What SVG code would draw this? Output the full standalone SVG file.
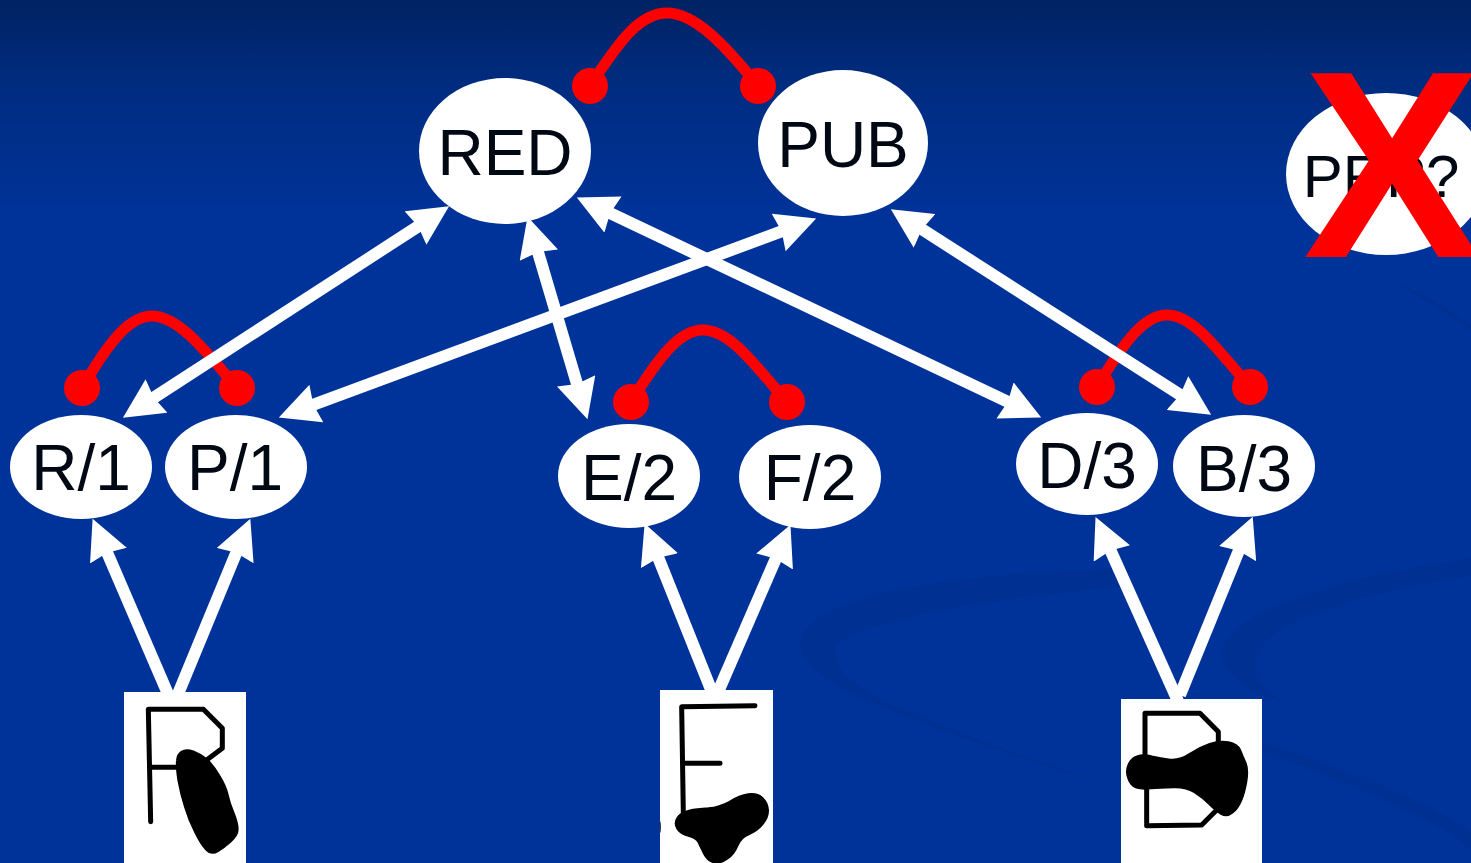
<svg xmlns="http://www.w3.org/2000/svg" width="1471" height="863" viewBox="0 0 1471 863">
  <style>
    .label { font-family: "Liberation Sans", Arial, sans-serif; font-size: 64px; fill: #000814; text-anchor: middle; }
    .oval { fill: #ffffff; }
    .link { stroke: #ffffff; stroke-width: 12; fill: none; }
    .both { marker-start: url(#head); marker-end: url(#head); }
    .one { marker-end: url(#head); }
    .arc { stroke: #ff0000; stroke-width: 11; fill: none; stroke-linecap: round; }
    .dot { fill: #ff0000; }
    .box { fill: #ffffff; }
    .pen { stroke: #000000; stroke-width: 15; fill: none; stroke-linejoin: round; stroke-linecap: round; }
    .ink { fill: #000000; stroke: #000000; stroke-width: 12; stroke-linejoin: round; }
    .swoosh { fill: #00308f; opacity: 0.65; }
  </style>
  <defs>
    <linearGradient id="sky" x1="0" y1="0" x2="0" y2="1">
      <stop offset="0" stop-color="#002263"/>
      <stop offset="0.1" stop-color="#002c80"/>
      <stop offset="0.25" stop-color="#003399"/>
      <stop offset="1" stop-color="#003399"/>
    </linearGradient>
    <marker id="head" markerUnits="userSpaceOnUse" markerWidth="40" markerHeight="40" viewBox="0 0 38 38" refX="13" refY="19" orient="auto-start-reverse">
      <path d="M0,0 L38,19 L0,38 L3,19 Z" fill="#ffffff"/>
    </marker>
  </defs>

  <g id="background">
    <rect width="1471" height="863" fill="url(#sky)"/>
    <path class="swoosh" d="M1130,568 C980,572 812,590 800,640 C794,680 880,712 1125,792 C930,722 830,690 836,650 C842,620 1000,598 1130,586 Z"/>
    <path class="swoosh" d="M1471,558 C1340,578 1230,610 1222,650 C1220,680 1260,695 1292,706 C1255,690 1250,670 1260,650 C1280,615 1380,590 1471,576 Z"/>
    <path class="swoosh" d="M1262,742 C1340,768 1430,800 1471,832 V850 C1430,815 1340,780 1262,752 Z"/>
    <path class="swoosh" d="M1395,282 C1420,292 1450,308 1471,325 V331 C1450,315 1420,298 1395,282 Z"/>
  </g>

  <g id="inhibition">
    <path class="arc" d="M590,86 C620,40 640,13 667,13 C695,13 725,45 758,86"/>
    <circle class="dot" cx="590" cy="86" r="18"/>
    <circle class="dot" cx="758" cy="86" r="18"/>
    <path class="arc" d="M82,388 C110,340 130,316 152,316 C178,316 205,350 237,388"/>
    <circle class="dot" cx="82" cy="388" r="18"/>
    <circle class="dot" cx="237" cy="388" r="18"/>
    <path class="arc" d="M631,402 C660,355 680,330 703,330 C730,330 755,365 787,402"/>
    <circle class="dot" cx="631" cy="402" r="18"/>
    <circle class="dot" cx="787" cy="402" r="18"/>
    <path class="arc" d="M1097,387 C1125,340 1145,315 1167,315 C1193,315 1218,350 1250,387"/>
    <circle class="dot" cx="1097" cy="387" r="18"/>
    <circle class="dot" cx="1250" cy="387" r="18"/>
  </g>

  <g id="connectors">
    <line class="link both" x1="145" y1="403.4" x2="427" y2="220.6"/>
    <line class="link both" x1="303.5" y1="408.3" x2="791.5" y2="227.7"/>
    <line class="link both" x1="535" y1="242" x2="580" y2="394"/>
    <line class="link both" x1="600.6" y1="208.7" x2="1017.4" y2="406.3"/>
    <line class="link both" x1="913" y1="223.5" x2="1189" y2="400.5"/>
    <line class="link one" x1="168" y1="694" x2="103" y2="543"/>
    <line class="link one" x1="178" y1="694" x2="240.3" y2="543"/>
    <line class="link one" x1="712" y1="692" x2="654.4" y2="548"/>
    <line class="link one" x1="718" y1="692" x2="780" y2="549"/>
    <line class="link one" x1="1178" y1="701" x2="1106.3" y2="541"/>
    <line class="link one" x1="1180" y1="695" x2="1242.8" y2="541"/>
  </g>

  <g id="node-red"><ellipse class="oval" cx="505" cy="151" rx="86" ry="73"/><text class="label" x="505" y="175">RED</text></g>
  <g id="node-pub"><ellipse class="oval" cx="843" cy="143" rx="85" ry="73"/><text class="label" x="843" y="167">PUB</text></g>
  <g id="node-prp">
    <ellipse class="oval" cx="1386" cy="174" rx="100" ry="81"/>
    <text class="label" x="1381" y="197" style="font-size:60px">PRP?</text>
    <text x="1392" y="257" style="font-family:'Liberation Sans',Arial,sans-serif;font-weight:bold;font-size:267px;fill:#ff0000;text-anchor:middle">X</text>
  </g>

  <g id="node-r1"><ellipse class="oval" cx="81" cy="467" rx="71" ry="52"/><text class="label" x="81" y="490">R/1</text></g>
  <g id="node-p1"><ellipse class="oval" cx="236" cy="467" rx="71" ry="52"/><text class="label" x="235" y="490">P/1</text></g>
  <g id="node-e2"><ellipse class="oval" cx="629" cy="476" rx="71" ry="52"/><text class="label" x="629" y="500">E/2</text></g>
  <g id="node-f2"><ellipse class="oval" cx="810" cy="477" rx="71" ry="52"/><text class="label" x="810" y="500">F/2</text></g>
  <g id="node-d3"><ellipse class="oval" cx="1087" cy="464" rx="71" ry="51"/><text class="label" x="1087" y="488">D/3</text></g>
  <g id="node-b3"><ellipse class="oval" cx="1244" cy="466" rx="71" ry="51"/><text class="label" x="1244" y="491">B/3</text></g>

  <!-- Occluded letter samples: outline strokes plus an ink blot, drawn at 3x and scaled down -->
  <g id="sample-r">
    <rect class="box" x="124" y="692" width="122" height="171"/>
    <g transform="translate(100 670) scale(0.3333)">
      <path class="pen" d="M152,455 L145,118 L310,118 L367,175 L367,235 L320,270 M150,292 L240,292"/>
      <path class="ink" d="M279,247 Q300,255 318,270 Q335,285 355,318 Q375,350 380,375 Q385,400 398,430 Q410,460 410,478 Q410,495 390,512 Q370,530 352,541 Q335,552 320,536 Q305,520 288,485 Q270,450 258,410 Q245,370 238,330 Q232,290 234,272 Q235,255 246,248 Q258,240 279,247 Z"/>
    </g>
  </g>
  <g id="sample-e">
    <rect class="box" x="660" y="690" width="113" height="173"/>
    <ellipse cx="660" cy="827" rx="1" ry="6" fill="#223366"/>
    <g transform="translate(640 670) scale(0.3333)">
      <path class="pen" d="M345,107 L125,110 L130,430 M130,280 L240,280"/>
      <path class="ink" d="M115,445 Q125,430 148,425 Q170,420 205,418 Q240,415 270,398 Q300,380 325,376 Q350,372 365,386 Q380,400 381,420 Q382,440 366,460 Q350,480 325,490 Q300,500 290,525 Q280,550 260,564 Q240,578 222,574 Q205,570 195,550 Q185,530 178,515 Q170,500 148,495 Q125,490 115,475 Q105,460 115,445 Z"/>
    </g>
  </g>
  <g id="sample-d">
    <rect class="box" x="1121" y="699" width="141" height="164"/>
    <g transform="translate(1100 680) scale(0.3333)">
      <path class="pen" d="M135,225 L135,100 L300,100 L355,155 L355,190 M140,325 L140,437 L305,435 L350,390"/>
      <path class="ink" d="M88,256 Q95,238 112,232 Q130,225 155,232 Q180,238 210,242 Q240,245 270,225 Q300,205 330,195 Q360,185 385,190 Q410,195 418,212 Q425,230 434,250 Q442,270 436,305 Q430,340 420,362 Q410,385 395,396 Q380,408 365,399 Q350,390 330,370 Q310,350 285,334 Q260,318 220,319 Q180,320 152,322 Q125,325 110,320 Q95,315 88,295 Q80,275 88,256 Z"/>
    </g>
  </g>
</svg>
